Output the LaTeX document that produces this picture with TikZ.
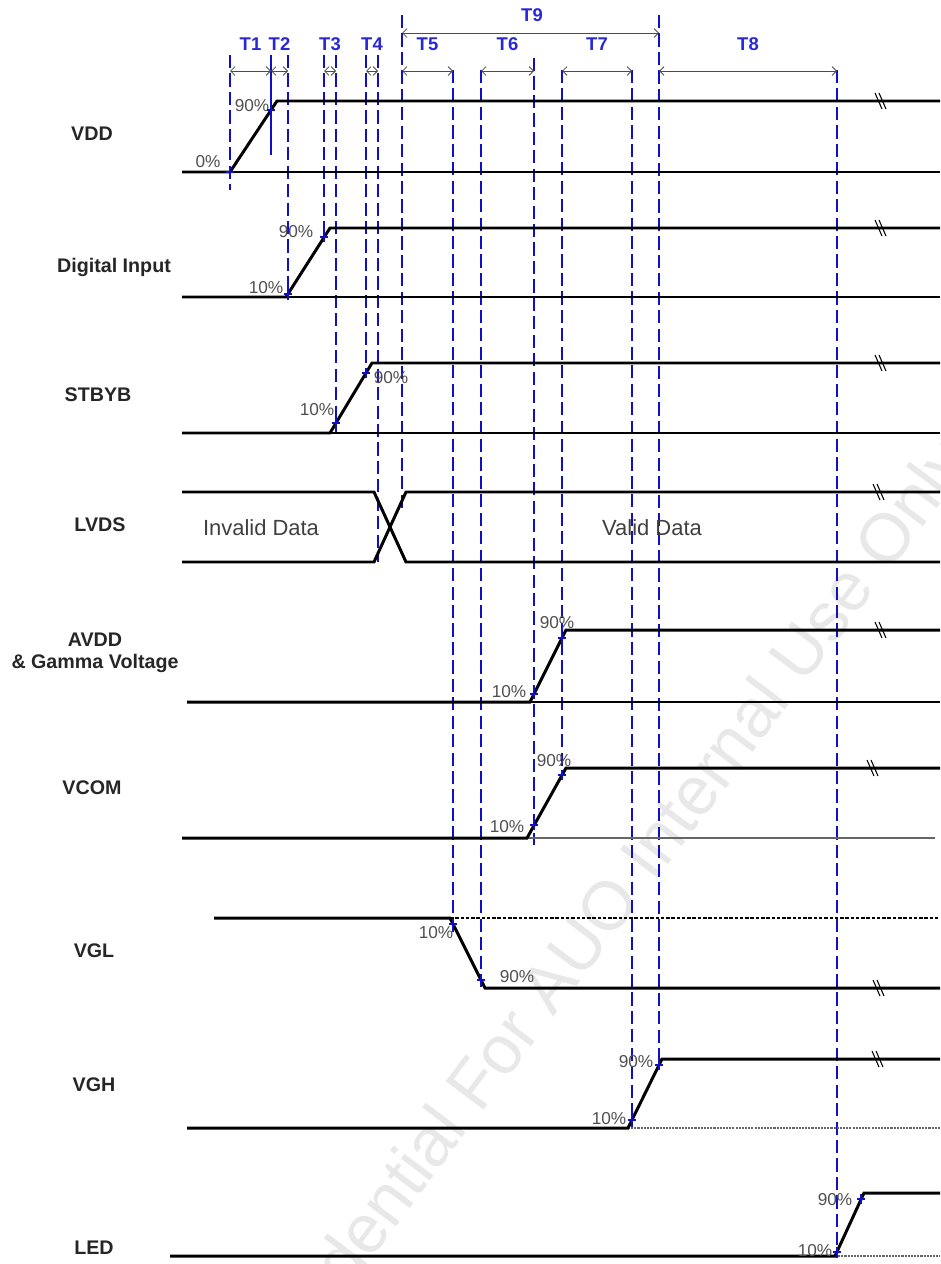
\documentclass[tikz,border=0pt]{standalone}
\usepackage{fontspec}
\setmainfont{Liberation Sans}
\usepackage{xcolor}
\usepackage{tikz}
\usetikzlibrary{arrows.meta,positioning}
\definecolor{dashblue}{RGB}{15,15,195}
\definecolor{lblue}{RGB}{40,40,215}
\definecolor{pctgray}{RGB}{80,80,80}
\definecolor{wmark}{RGB}{232,232,232}
% break mark on a long level
\newcommand\brkmark[2]{\draw[line width=0.6pt] (#1-5,#2-8) -- (#1+2,#2+8) (#1-1,#2-8) -- (#1+6,#2+8);}
% 10%/90% tick on a ramp
\newcommand\rampmark[2]{\draw[mk] (#1-4,#2) -- (#1+4,#2) (#1,#2-5) -- (#1,#2+5);}

\begin{document}
\begin{tikzpicture}[x=0.02cm,y=-0.02cm,font=\fontsize{9.5}{11}\selectfont]
\tikzset{sig/.style={line width=1.7pt,black},
  thinln/.style={line width=0.8pt,black},
  tline/.style={dashblue,line width=1.6pt,dash pattern=on 7.5pt off 3pt},
  dim/.style={black!70,line width=0.5pt,{Straight Barb[length=2.5pt,width=5pt]}-{Straight Barb[length=2.5pt,width=5pt]}},
  tlab/.style={lblue,font=\fontsize{10.5}{12}\bfseries\selectfont},
  signame/.style={font=\fontsize{11.2}{12.5}\bfseries\selectfont,align=center,text=black!85},
  pct/.style={pctgray,font=\fontsize{9.8}{11}\selectfont,inner sep=0pt},
  mk/.style={dashblue,line width=0.9pt}}
\fill[white] (0,0) rectangle (940,1264);
\useasboundingbox (0,0) rectangle (940,1264);

% watermark
\begin{scope}
\clip (0,0) rectangle (940,1264);
\node[rotate=53,text=wmark,font=\fontsize{39}{40}\selectfont] (wm) at (598,929) {Confidential For AUO Internal Use Only};
\end{scope}

% signal names
\node[signame] (vdd) at (92,134) {VDD};
\node[signame] (din) at (114,267) {Digital Input};
\node[signame] (stb) at (98,395) {STBYB};
\node[signame] (lvds) at (100,525) {LVDS};
\node[signame] (avdd) at (95,653) {AVDD\\\& Gamma Voltage};
\node[signame] (vcom) at (92,788) {VCOM};
\node[signame] (vgl) at (94,951) {VGL};
\node[signame] (vgh) at (94,1085) {VGH};
\node[signame] (led) at (94,1248) {LED};

% timing lines
\foreach \x/\ya/\yb in {230/55/190, 288/55/300, 324/55/240, 336/55/432, 366/55/373,
  378/55/562, 402/15/512, 453/70/932, 481/70/990, 534/58/845, 562/70/780,
  632/70/1128, 659/15/1070, 837/70/1258}
  \draw[tline] (\x,\ya) -- (\x,\yb);
\draw[dashblue,line width=0.9pt] (271,55) -- (271,155);

% intervals
\foreach \a/\b/\t in {230/271/T1, 271/288/T2, 324/336/T3, 366/378/T4, 402/453/T5,
  481/534/T6, 562/632/T7, 659/837/T8}{
  \draw[dim] (\a,71) -- (\b,71);
  \node[tlab] (\t) at ({(\a+\b)/2},44) {\t};
}
\draw[dim] (402,33) -- (659,33);
\node[tlab] (T9) at (532,15) {T9};

% VDD
\draw[thinln] (230,172) -- (940,172);
\draw[sig] (182,172) -- (230,172) -- (277,101) -- (940,101);
\node[pct] at (208,162) {0\%};
\node[pct] at (252,106) {90\%};
\rampmark{230}{172}\rampmark{271}{110}
\brkmark{880}{101}

% Digital Input
\draw[thinln] (286,297) -- (940,297);
\draw[sig] (182,297) -- (286,297) -- (330,228) -- (940,228);
\node[pct] at (266,288) {10\%};
\node[pct] at (296,232) {90\%};
\rampmark{288}{294}\rampmark{324}{237}
\brkmark{880}{228}

% STBYB
\draw[thinln] (330,433) -- (940,433);
\draw[sig] (182,433) -- (330,433) -- (372,363) -- (940,363);
\node[pct] at (317,410) {10\%};
\node[pct] at (391,378) {90\%};
\rampmark{336}{423}\rampmark{366}{373}
\brkmark{880}{363}

% LVDS
\draw[sig] (182,492) -- (374,492) -- (406,562) -- (940,562);
\draw[sig] (182,562) -- (374,562) -- (406,492) -- (940,492);
\node[text=black!75,font=\fontsize{12.5}{14}\selectfont] (inval) at (261,528) {Invalid Data};
\node[text=black!75,font=\fontsize{12.5}{14}\selectfont] (val) at (652,528) {Valid Data};
\brkmark{878}{492}

% AVDD
\draw[thinln] (530,702) -- (940,702);
\draw[sig] (187,702) -- (530,702) -- (566,630) -- (940,630);
\node[pct] at (509,692) {10\%};
\node[pct] at (557,623) {90\%};
\rampmark{534}{694}\rampmark{562}{638}
\brkmark{880}{630}

% VCOM
\draw[thinln,black!60] (527,838) -- (935,838);
\draw[sig] (182,838) -- (527,838) -- (566,768) -- (940,768);
\node[pct] at (507,827) {10\%};
\node[pct] at (554,761) {90\%};
\rampmark{534}{825}\rampmark{562}{775}
\brkmark{872}{768}

% VGL
\draw[line width=0.6pt,dash pattern=on 2pt off 1pt] (450,918) -- (940,918);
\draw[sig] (214,918) -- (450,918) -- (485,988) -- (940,988);
\node[pct] at (436,933) {10\%};
\node[pct] at (517,977) {90\%};
\rampmark{453}{924}\rampmark{481}{980}
\brkmark{878}{988}

% VGH
\draw[line width=0.8pt,black!60,dash pattern=on 1.2pt off 0.6pt] (628,1128) -- (940,1128);
\draw[sig] (187,1128) -- (628,1128) -- (662,1059) -- (940,1059);
\node[pct] at (609,1119) {10\%};
\node[pct] at (636,1062) {90\%};
\rampmark{632}{1120}\rampmark{659}{1065}
\brkmark{877}{1059}

% LED
\draw[line width=0.8pt,black!60,dash pattern=on 1.2pt off 0.6pt] (835,1256) -- (940,1256);
\draw[sig] (170,1256) -- (835,1256) -- (864,1193) -- (940,1193);
\node[pct] at (815,1251) {10\%};
\node[pct] at (835,1200) {90\%};
\rampmark{837}{1252}\rampmark{861}{1199}
\end{tikzpicture}
\end{document}
